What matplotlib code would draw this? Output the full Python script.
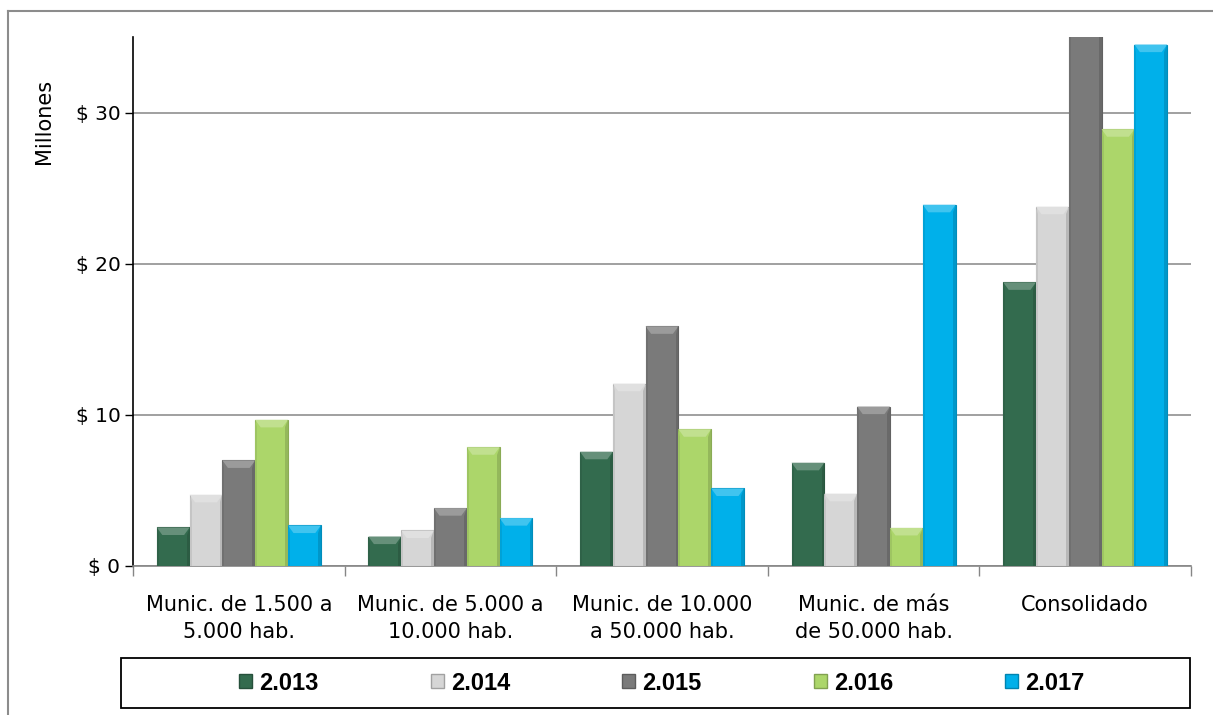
import numpy as np
import matplotlib.pyplot as plt
import matplotlib.colors as mcolors
from matplotlib.patches import Polygon, Rectangle
from matplotlib.lines import Line2D

# Gasto por grupo de municipios, en millones de pesos
categorias = ["Munic. de 1.500 a\n5.000 hab.", "Munic. de 5.000 a\n10.000 hab.",
              "Munic. de 10.000\na 50.000 hab.", "Munic. de más\nde 50.000 hab.",
              "Consolidado"]
anios = ["2.013", "2.014", "2.015", "2.016", "2.017"]
v2013 = [2.55, 1.95, 7.56, 6.83, 18.77]
v2014 = [4.71, 2.35, 12.06, 4.78, 23.77]
v2015 = [6.99, 3.83, 15.86, 10.55, 35.6]
v2016 = [9.67, 7.86, 9.05, 2.52, 28.9]
v2017 = [2.68, 3.17, 5.13, 23.9, 34.5]
series = [v2013, v2014, v2015, v2016, v2017]
colores = ["#336b4e", "#d6d6d6", "#7a7a7a", "#acd66a", "#00b0ea"]
yticks = [0, 10, 20, 30]

fig = plt.figure(figsize=(12.13, 7.15), dpi=100)
ax = fig.add_axes([133 / 1213, 1 - 566 / 715, (1191 - 133) / 1213, (566 - 37) / 715])

x = np.arange(len(categorias))
ancho = 0.155


def tono(color, f):
    r, g, b = mcolors.to_rgb(color)
    if f >= 1:
        return tuple(c + (1 - c) * (f - 1) for c in (r, g, b))
    return tuple(c * f for c in (r, g, b))


bev_x = 0.026
bev_y = 0.5
for i, (vals, col) in enumerate(zip(series, colores)):
    pos = x + (i - 2) * ancho
    bars = ax.bar(pos, vals, ancho, color=col, edgecolor=tono(col, 0.8),
                  linewidth=0.8, zorder=3, label=anios[i])
    # bisel: tapa superior clara y costados en sombra
    for b in bars:
        x0, w, h = b.get_x(), b.get_width(), b.get_height()
        tapa = Polygon([(x0, h), (x0 + w, h), (x0 + w - bev_x, h - bev_y),
                        (x0 + bev_x, h - bev_y)], closed=True,
                       facecolor=tono(col, 1.25), edgecolor='none', zorder=4)
        der = Polygon([(x0 + w, h), (x0 + w, 0), (x0 + w - bev_x * 0.5, 0),
                       (x0 + w - bev_x * 0.5, h - bev_y)], closed=True,
                      facecolor=tono(col, 0.86), edgecolor='none', zorder=4)
        izq = Polygon([(x0, h), (x0, 0), (x0 + bev_x * 0.35, 0),
                       (x0 + bev_x * 0.35, h - bev_y)], closed=True,
                      facecolor=tono(col, 0.92), edgecolor='none', zorder=4)
        for p in (tapa, der, izq):
            p.set_clip_path(ax.patch)
            ax.add_patch(p)

ax.set_xlim(-0.5, len(categorias) - 0.5)
ax.set_ylim(0, 35)
ax.set_yticks(yticks)
ax.set_yticklabels([f"$ {v}" for v in yticks], fontsize=14.5, family="DejaVu Sans")
ax.yaxis.grid(True, color="#868686", linewidth=1.1, zorder=0)
ax.set_axisbelow(True)

ax.set_xticks(x)
ax.set_xticklabels(categorias, fontsize=15, family="DejaVu Sans", linespacing=1.45)
ax.tick_params(axis="x", which="major", length=0, pad=21)
ax.set_xticks(np.arange(-0.5, len(categorias)), minor=True)
ax.tick_params(axis="x", which="minor", length=7, color="#868686", width=1)
ax.tick_params(axis="y", length=6, color="black", width=1, pad=3)

for s in ("top", "right"):
    ax.spines[s].set_visible(False)
ax.spines["left"].set_color("black")
ax.spines["left"].set_linewidth(1.2)
ax.spines["bottom"].set_color("#868686")
ax.spines["bottom"].set_linewidth(1.2)

fig.text(44 / 1213, 1 - 121 / 715, "Millones", rotation=90, ha="center",
         va="center", fontsize=15, family="DejaVu Sans")

# recuadro de la leyenda bajo el grafico
caja = Rectangle((121 / 1213, 1 - 708 / 715), (1190 - 121) / 1213, 50 / 715,
                 transform=fig.transFigure, facecolor="white",
                 edgecolor="black", linewidth=1.3)
fig.add_artist(caja)
handles = [plt.Rectangle((0, 0), 1, 1, facecolor=c, edgecolor=tono(c, 0.75))
           for c in colores]
leg = fig.legend(handles, anios, loc="center", ncol=5,
                 bbox_to_anchor=(662 / 1213, 1 - 683 / 715),
                 prop={"family": "Liberation Sans", "weight": "bold", "size": 17},
                 handlelength=0.55, handleheight=0.55, handletextpad=0.3,
                 columnspacing=4.75, frameon=False, borderaxespad=0)

# marco exterior del area del grafico
fig.add_artist(Line2D([8 / 1213, 8 / 1213], [0, 1 - 11 / 715],
                      transform=fig.transFigure, color="#8c8c8c", linewidth=1.5))
fig.add_artist(Line2D([8 / 1213, 1], [1 - 11 / 715, 1 - 11 / 715],
                      transform=fig.transFigure, color="#8c8c8c", linewidth=1.5))

fig.savefig("out.png", dpi=100)
